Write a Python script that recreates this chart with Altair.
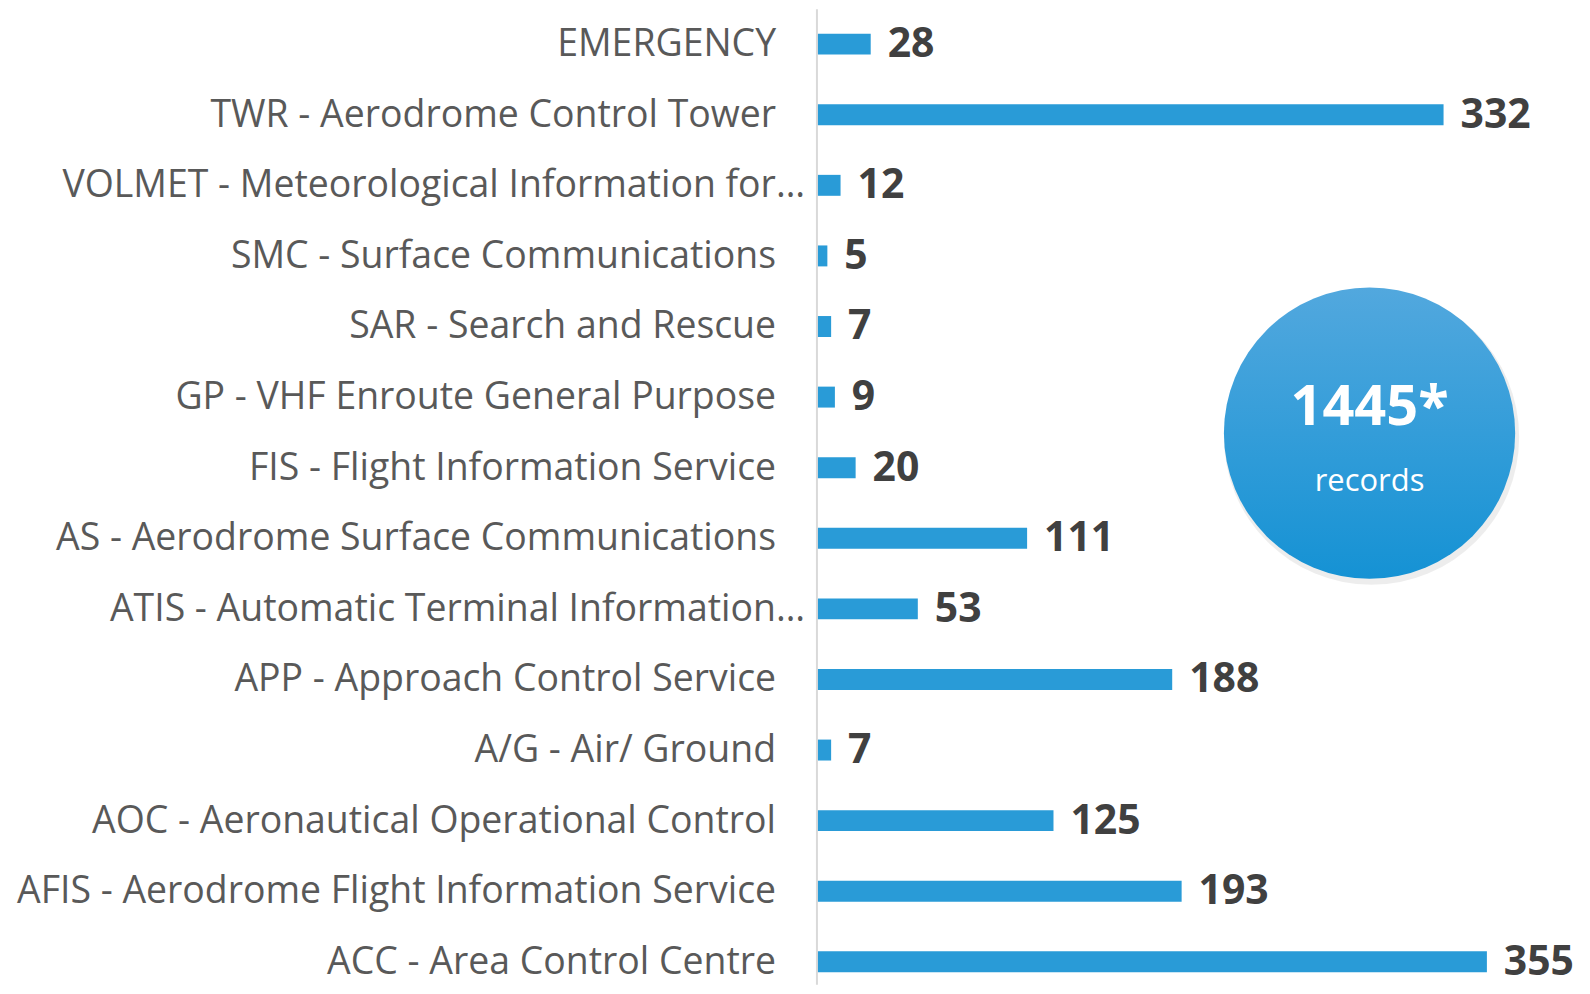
import altair as alt
import pandas as pd

categories = [
    "EMERGENCY",
    "TWR - Aerodrome Control Tower",
    "VOLMET - Meteorological Information for…",
    "SMC - Surface Communications",
    "SAR - Search and Rescue",
    "GP - VHF Enroute General Purpose",
    "FIS - Flight Information Service",
    "AS - Aerodrome Surface Communications",
    "ATIS - Automatic Terminal Information…",
    "APP - Approach Control Service",
    "A/G - Air/ Ground",
    "AOC - Aeronautical Operational Control",
    "AFIS - Aerodrome Flight Information Service",
    "ACC - Area Control Centre",
]
values = [28, 332, 12, 5, 7, 9, 20, 111, 53, 188, 7, 125, 193, 355]
total_label = "1445*"
total_sub = "records"

df = pd.DataFrame({"cat": categories, "val": values})
ann = pd.DataFrame({"big": [total_label], "sub": [total_sub]})

W, H = 750, 970
FONT = "Open Sans"
BAR = "#299BD7"

y = alt.Y("cat:N", sort=categories,
          scale=alt.Scale(type="point", range=[35, 955], padding=0),
          axis=None)
x = alt.X("val:Q", scale=alt.Scale(domain=[0, 397], nice=False), axis=None)

base = alt.Chart(df)

bars = base.mark_bar(size=21, color=BAR).encode(x=x, y=y)

vals = base.mark_text(align="left", baseline="middle", dx=17, dy=1,
                      font=FONT, fontSize=41, fontWeight="bold",
                      color="#404040").encode(x=x, y=y, text="val:Q")

labels_normal = base.transform_filter(
    "indexof(datum.cat, '…') < 0"
).mark_text(align="right", baseline="middle", dx=-42, dy=1, font=FONT,
            fontSize=37.5, color="#595959").encode(
    x=alt.value(0), y=y, text="cat:N")

labels_trunc = base.transform_filter(
    "indexof(datum.cat, '…') >= 0"
).mark_text(align="right", baseline="middle", dx=-13, dy=1, font=FONT,
            fontSize=37.5, color="#595959").encode(
    x=alt.value(0), y=y, text="cat:N")

axis_line = alt.Chart(ann).mark_rule(color="#D9D9D9", strokeWidth=2).encode(
    x=alt.value(-1), y=alt.value(0), y2=alt.value(H + 8))

shadow = alt.Chart(ann).mark_circle(color="#000000", opacity=0.07, size=296 ** 2).encode(
    x=alt.value(555), y=alt.value(429))

grad = alt.LinearGradient(
    gradient="linear",
    stops=[alt.GradientStop(color="#52A8DE", offset=0),
           alt.GradientStop(color="#1592D4", offset=1)],
    x1=0, x2=0, y1=0, y2=1)

circle = alt.Chart(ann).mark_circle(fill=grad, opacity=1, size=292 ** 2).encode(
    x=alt.value(553), y=alt.value(425))

big = alt.Chart(ann).mark_text(font=FONT, fontSize=56, fontWeight="bold",
                               color="white", baseline="middle").encode(
    x=alt.value(553), y=alt.value(400), text="big:N")

sub = alt.Chart(ann).mark_text(font=FONT, fontSize=31, color="white",
                               baseline="middle").encode(
    x=alt.value(553), y=alt.value(474), text="sub:N")

chart = alt.layer(axis_line, bars, vals, labels_normal, labels_trunc,
                  shadow, circle, big, sub).properties(
    width=W, height=H,
    autosize=alt.AutoSizeParams(type="none"),
    padding={"left": 812, "top": 0, "right": 16, "bottom": 8},
).configure_view(stroke=None)

chart.save("out.html", embed_options={"renderer": "svg", "actions": False})
